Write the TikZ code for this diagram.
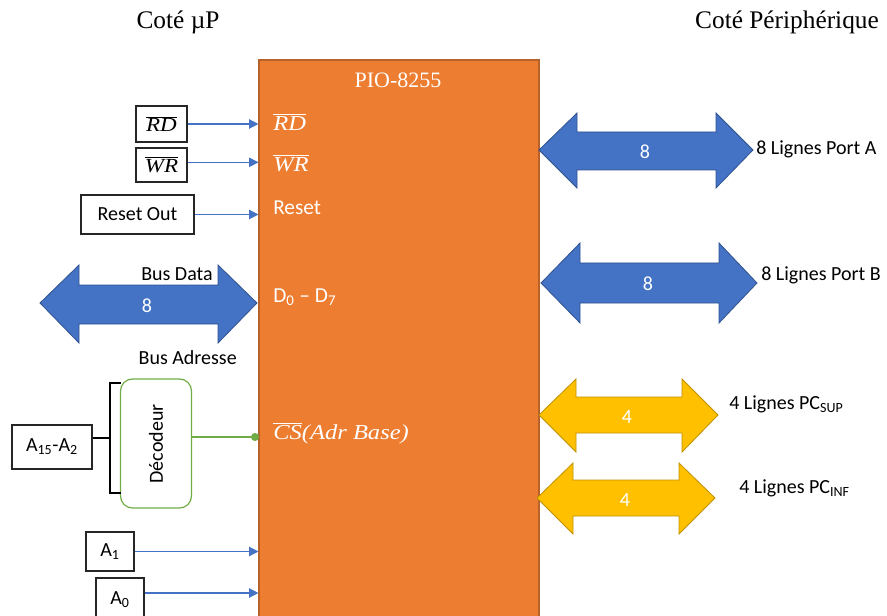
\documentclass[tikz,border=0pt]{standalone}
\usepackage{fontspec}
\setmainfont{Carlito}
\newfontfamily\tms{Liberation Serif}
\newfontfamily\cam[FakeStretch=1.15]{Liberation Serif}
\newcommand{\mitx}[1]{{\cam\itshape #1}}
\newcommand{\ovl}[1]{$\overline{\hbox{\cam\itshape #1}}$}
\usetikzlibrary{arrows.meta}
\definecolor{orng}{HTML}{ED7D31}
\definecolor{orngd}{HTML}{B6622A}
\definecolor{blu}{HTML}{4472C4}
\definecolor{blud}{HTML}{2F528F}
\definecolor{yel}{HTML}{FFC000}
\definecolor{yeld}{HTML}{BF9000}
\definecolor{grn}{HTML}{70AD47}
\tikzset{
  txt/.style={inner sep=0pt, font=\fontsize{15}{18}\selectfont},
  intxt/.style={inner sep=0pt, anchor=west, text=white, font=\fontsize{16}{19}\selectfont},
  sbox/.style={draw=black!85, line width=0.9pt, inner sep=0pt, font=\fontsize{15}{18}\selectfont},
  sig/.style={draw=blu, line width=0.9pt, -{Triangle[length=7pt,width=7pt]}},
  bigblue/.style={fill=blu, draw=blud, line width=0.6pt},
  bigyel/.style={fill=yel, draw=yeld, line width=0.6pt},
  wnum/.style={inner sep=0pt, text=white, font=\fontsize{15}{18}\selectfont},
  title/.style={inner sep=0pt, font=\tms\fontsize{19}{22}\selectfont}
}
\begin{document}
\begin{tikzpicture}[x=0.75pt,y=-0.75pt]
\useasboundingbox (0,0) rectangle (887,616);

% titles
\node[title] (tl) at (178,22) {Coté µP};
\node[title] (tr) at (787,22) {Coté Périphérique};

% main chip
\node[draw=orngd, fill=orng, line width=0.8pt, minimum width=210pt, minimum height=420pt, inner sep=0pt] (pio) at (399,340) {};
\node[inner sep=0pt, text=white, font=\tms\fontsize{16.5}{19}\selectfont] (piot) at (398,80) {PIO-8255};
\node[intxt] (lrd) at (273,122) {\ovl{RD}};
\node[intxt] (lwr) at (273,163) {\ovl{WR}};
\node[intxt] (lreset) at (273,208) {Reset};
\node[intxt] (ld) at (273,297) {D\textsubscript{0} – D\textsubscript{7}};
\node[intxt] (lcs) at (273,433) {\ovl{CS}\mitx{(Adr Base)}};

% left inputs
\node[sbox, minimum width=38.25pt, minimum height=27pt] (rd) at (161.5,124) {\ovl{RD}};
\node[sbox, minimum width=38.25pt, minimum height=25.5pt] (wr) at (161.5,165) {\ovl{WR}};
\node[sbox, minimum width=84.75pt, minimum height=29.25pt] (reset) at (137.5,214.5) {Reset Out};
\node[sbox, minimum width=60pt, minimum height=33pt] (a15) at (52,447) {A\textsubscript{15}-A\textsubscript{2}};
\node[sbox, minimum width=36pt, minimum height=29.25pt] (a1) at (110,551.5) {A\textsubscript{1}};
\node[sbox, minimum width=36pt, minimum height=33pt] (a0) at (120,600) {A\textsubscript{0}};

\draw[sig] (rd.east) -- (rd.east -| pio.west);
\draw[sig] ([yshift=2pt]wr.east) -- ([yshift=2pt]wr.east -| pio.west);
\draw[sig] (reset.east) -- (reset.east -| pio.west);
\draw[sig] (a1.east) -- (a1.east -| pio.west);
\draw[sig] ([yshift=5.25pt]a0.east) -- ([yshift=5.25pt]a0.east -| pio.west);

% decoder
\node[draw=grn, line width=0.9pt, rounded corners=9pt, minimum width=53.25pt, minimum height=96.75pt, inner sep=0pt] (dec) at (156,443.5) {};
\node[txt, rotate=90] (dect) at (156,444) {Décodeur};
\coordinate (bmid) at (110,438);
\coordinate (btop) at (110,383);
\coordinate (bbot) at (110,493);
\draw[line width=1.8pt, black] ([xshift=8pt]btop) -- (btop) -- (bbot) -- ([xshift=8pt]bbot);
\draw[line width=1.8pt, black] (bmid) -- (bmid -| a15.east);
\coordinate (csin) at (259,437);
\draw[grn, line width=0.9pt, -{Circle[length=6pt]}] (csin -| dec.east) -- (csin);

% bus data
\filldraw[bigblue] (40,303) -- (79,265) -- (79,285) -- (218,285) -- (218,265) -- (257,303) -- (218,343) -- (218,324) -- (79,324) -- (79,343) -- cycle;
\node[wnum] (n8d) at (147,306) {8};
\node[txt, anchor=east] (busd) at (213,274) {Bus Data};
\node[txt, anchor=east] (busa) at (237,358) {Bus Adresse};

% port A
\filldraw[bigblue] (539,150) -- (577,113) -- (577,132) -- (716,132) -- (716,113) -- (753,150) -- (716,188) -- (716,170) -- (577,170) -- (577,188) -- cycle;
\node[wnum] (n8a) at (645,152) {8};
\node[txt, anchor=west] (pa) at (756,149) {8 Lignes Port A};

% port B
\filldraw[bigblue] (541,283) -- (580,243) -- (580,263) -- (719,263) -- (719,243) -- (757,283) -- (719,323) -- (719,303) -- (580,303) -- (580,323) -- cycle;
\node[wnum] (n8b) at (648,284) {8};
\node[txt, anchor=west] (pb) at (761,275) {8 Lignes Port B};

% PC sup
\filldraw[bigyel] (539,415) -- (576,379) -- (576,397) -- (682,397) -- (682,379) -- (718,415) -- (682,452) -- (682,433) -- (576,433) -- (576,452) -- cycle;
\node[wnum] (n4s) at (627,417) {4};
\node[txt, anchor=west] (pcs) at (729,404) {4 Lignes PC\textsubscript{SUP}};

% PC inf
\filldraw[bigyel] (537,498) -- (573,463) -- (573,480) -- (679,480) -- (679,463) -- (715,498) -- (679,534) -- (679,516) -- (573,516) -- (573,534) -- cycle;
\node[wnum] (n4i) at (625,500) {4};
\node[txt, anchor=west] (pci) at (739,488) {4 Lignes PC\textsubscript{INF}};
\end{tikzpicture}
\end{document}
